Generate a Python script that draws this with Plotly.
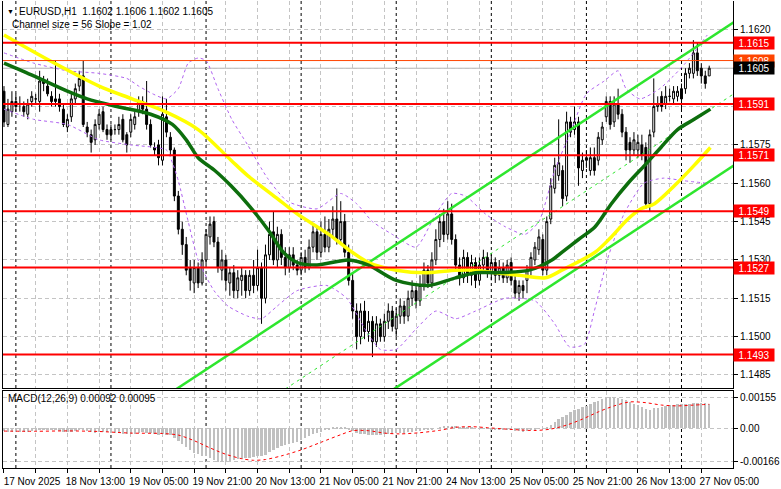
import plotly.graph_objects as go

# ---------------- data ----------------
bar_index = list(range(179))

opens = [1.1596,1.1583,1.1588,1.1592,1.1591,1.1590,1.1587,1.1592,1.1593,1.1592,
         1.1600,1.1598,1.1594,1.1593,1.1593,1.1589,1.1582,1.1586,1.1593,1.1598,
         1.1602,1.1582,1.1579,1.1577,1.1583,1.1588,1.1581,1.1581,1.1581,1.1581,
         1.1585,1.1579,1.1580,1.1583,1.1588,1.1592,1.1589,1.1583,1.1574,1.1575,
         1.1569,1.1586,1.1578,1.1573,1.1555,1.1542,1.1536,1.1527,1.1521,1.1527,
         1.1521,1.1530,1.1539,1.1545,1.1537,1.1526,1.1530,1.1521,1.1525,1.1518,
         1.1522,1.1524,1.1518,1.1524,1.1520,1.1527,1.1515,1.1532,1.1541,1.1530,
         1.1540,1.1531,1.1527,1.1532,1.1528,1.1526,1.1531,1.1527,1.1535,1.1541,
         1.1533,1.1540,1.1535,1.1542,1.1546,1.1538,1.1545,1.1533,1.1522,1.1510,
         1.1500,1.1510,1.1502,1.1506,1.1498,1.1505,1.1500,1.1506,1.1510,1.1503,
         1.1508,1.1512,1.1508,1.1515,1.1518,1.1514,1.1520,1.1526,1.1521,1.1530,
         1.1538,1.1545,1.1540,1.1548,1.1538,1.1528,1.1523,1.1531,1.1524,1.1529,
         1.1522,1.1528,1.1531,1.1525,1.1529,1.1524,1.1527,1.1523,1.1529,1.1522,
         1.1517,1.1520,1.1522,1.1526,1.1530,1.1534,1.1538,1.1526,1.1546,1.1558,
         1.1563,1.1565,1.1555,1.1584,1.1581,1.1584,1.1565,1.1570,1.1565,1.1570,
         1.1569,1.1577,1.1586,1.1592,1.1584,1.1591,1.1587,1.1580,1.1576,1.1573,
         1.1573,1.1575,1.1574,1.1552,1.1580,1.1590,1.1594,1.1591,1.1594,1.1593,
         1.1594,1.1597,1.1597,1.1603,1.1603,1.1611,1.1605,1.1602,1.1602]
highs = [1.1598,1.1593,1.1596,1.1595,1.1594,1.1592,1.1593,1.1596,1.1595,1.1604,
         1.1602,1.1601,1.1596,1.1608,1.1595,1.1591,1.1587,1.1595,1.1599,1.1604,
         1.1608,1.1584,1.1581,1.1585,1.1589,1.1590,1.1583,1.1583,1.1583,1.1586,
         1.1587,1.1580,1.1587,1.1588,1.1594,1.1594,1.1600,1.1585,1.1576,1.1577,
         1.1594,1.1593,1.1580,1.1574,1.1557,1.1545,1.1539,1.1530,1.1530,1.1529,
         1.1533,1.1542,1.1547,1.1547,1.1539,1.1534,1.1532,1.1527,1.1528,1.1526,
         1.1527,1.1526,1.1526,1.1530,1.1534,1.1529,1.1536,1.1545,1.1549,1.1543,
         1.1542,1.1535,1.1535,1.1535,1.1530,1.1533,1.1534,1.1538,1.1544,1.1543,
         1.1545,1.1547,1.1546,1.1551,1.1558,1.1553,1.1548,1.1536,1.1525,1.1513,
         1.1513,1.1514,1.1510,1.1508,1.1508,1.1507,1.1509,1.1513,1.1512,1.1511,
         1.1515,1.1514,1.1518,1.1522,1.1520,1.1524,1.1529,1.1528,1.1533,1.1542,
         1.1548,1.1550,1.1553,1.1552,1.1540,1.1531,1.1534,1.1533,1.1532,1.1531,
         1.1531,1.1534,1.1533,1.1532,1.1531,1.1530,1.1529,1.1530,1.1531,1.1524,
         1.1522,1.1522,1.1528,1.1533,1.1537,1.1542,1.1540,1.1547,1.1562,1.1570,
         1.1585,1.1567,1.1588,1.1586,1.1590,1.1586,1.1572,1.1573,1.1574,1.1574,
         1.1580,1.1584,1.1594,1.1594,1.1594,1.1597,1.1589,1.1582,1.1578,1.1580,
         1.1579,1.1579,1.1576,1.1581,1.1601,1.1594,1.1596,1.1598,1.1597,1.1598,
         1.1598,1.1599,1.1605,1.1607,1.1616,1.1615,1.1607,1.1604,1.1606]
lows = [1.1582,1.1582,1.1586,1.1588,1.1588,1.1586,1.1585,1.1590,1.1591,1.1588,
        1.1596,1.1594,1.1590,1.1590,1.1588,1.1582,1.1580,1.1584,1.1591,1.1596,
        1.1582,1.1578,1.1572,1.1575,1.1581,1.1580,1.1577,1.1577,1.1579,1.1579,
        1.1576,1.1572,1.1578,1.1581,1.1586,1.1587,1.1581,1.1574,1.1571,1.1567,
        1.1567,1.1578,1.1571,1.1553,1.1540,1.1532,1.1524,1.1518,1.1517,1.1519,
        1.1520,1.1528,1.1536,1.1535,1.1525,1.1522,1.1518,1.1516,1.1515,1.1515,
        1.1516,1.1515,1.1516,1.1517,1.1518,1.1505,1.1513,1.1530,1.1528,1.1527,
        1.1528,1.1524,1.1525,1.1526,1.1524,1.1524,1.1525,1.1526,1.1533,1.1530,
        1.1531,1.1533,1.1533,1.1539,1.1536,1.1536,1.1531,1.1520,1.1507,1.1495,
        1.1497,1.1499,1.1498,1.1492,1.1496,1.1498,1.1498,1.1503,1.1502,1.1500,
        1.1505,1.1505,1.1506,1.1512,1.1511,1.1512,1.1518,1.1519,1.1519,1.1528,
        1.1535,1.1537,1.1538,1.1536,1.1526,1.1520,1.1521,1.1521,1.1520,1.1519,
        1.1520,1.1525,1.1523,1.1522,1.1521,1.1522,1.1521,1.1521,1.1520,1.1515,
        1.1514,1.1515,1.1517,1.1524,1.1528,1.1532,1.1524,1.1524,1.1544,1.1556,
        1.1561,1.1551,1.1553,1.1578,1.1579,1.1559,1.1562,1.1566,1.1563,1.1563,
        1.1567,1.1575,1.1584,1.1581,1.1582,1.1585,1.1578,1.1569,1.1568,1.1571,
        1.1570,1.1569,1.1550,1.1549,1.1578,1.1588,1.1588,1.1589,1.1592,1.1591,
        1.1592,1.1588,1.1595,1.1601,1.1601,1.1602,1.1599,1.1597,1.1602]
closes = [1.1584,1.1589,1.1592,1.1590,1.1591,1.1588,1.1591,1.1594,1.1593,1.1600,
          1.1599,1.1595,1.1592,1.1592,1.1590,1.1583,1.1585,1.1593,1.1597,1.1601,
          1.1583,1.1580,1.1576,1.1583,1.1587,1.1581,1.1579,1.1579,1.1581,1.1583,
          1.1577,1.1575,1.1585,1.1586,1.1592,1.1589,1.1583,1.1575,1.1573,1.1570,
          1.1587,1.1580,1.1573,1.1555,1.1542,1.1536,1.1526,1.1522,1.1527,1.1521,
          1.1530,1.1540,1.1544,1.1537,1.1527,1.1530,1.1522,1.1525,1.1518,1.1523,
          1.1524,1.1518,1.1524,1.1520,1.1527,1.1515,1.1532,1.1540,1.1530,1.1540,
          1.1531,1.1527,1.1532,1.1528,1.1526,1.1531,1.1527,1.1535,1.1541,1.1533,
          1.1540,1.1535,1.1542,1.1546,1.1538,1.1545,1.1533,1.1522,1.1510,1.1500,
          1.1510,1.1502,1.1506,1.1498,1.1505,1.1500,1.1506,1.1510,1.1504,1.1508,
          1.1512,1.1508,1.1515,1.1518,1.1514,1.1520,1.1526,1.1521,1.1530,1.1538,
          1.1545,1.1540,1.1548,1.1538,1.1528,1.1523,1.1531,1.1524,1.1529,1.1522,
          1.1528,1.1531,1.1525,1.1529,1.1524,1.1527,1.1523,1.1528,1.1522,1.1517,
          1.1520,1.1518,1.1526,1.1531,1.1535,1.1539,1.1526,1.1545,1.1559,1.1567,
          1.1568,1.1554,1.1584,1.1580,1.1584,1.1566,1.1569,1.1569,1.1570,1.1565,
          1.1578,1.1582,1.1592,1.1583,1.1591,1.1587,1.1580,1.1573,1.1573,1.1577,
          1.1576,1.1571,1.1552,1.1579,1.1590,1.1591,1.1590,1.1594,1.1594,1.1596,
          1.1596,1.1593,1.1603,1.1605,1.1611,1.1604,1.1602,1.1599,1.1605]

# moving averages (yellow / dark green), bar index -> price
ma_yellow_x = [0, 11.5, 24, 32.3, 40.7, 49, 57.3, 61.5, 69, 74, 82, 87, 92, 99, 107,
               114, 119, 124, 130, 136.7, 140.8, 149.2, 153.3, 157.5, 160.8, 164.2,
               169.2, 174.2, 178.3]
ma_yellow = [1.1618, 1.1608, 1.1598, 1.1593, 1.1588, 1.1581, 1.1569, 1.1563, 1.1554,
             1.1548, 1.1540, 1.1534, 1.1529, 1.1526, 1.1525, 1.1526, 1.1526, 1.1525,
             1.1524, 1.1523, 1.1526, 1.1533, 1.1539, 1.1546, 1.1550, 1.1552, 1.1559,
             1.1567, 1.1574]
ma_green_x = [0, 7.5, 16, 21, 28.5, 37, 42.5, 46, 49, 53.2, 57.3, 62, 67, 70.5, 74,
              79, 87, 92, 99, 107, 114, 119, 124.2, 132.5, 138.3, 140.8, 145, 149.2,
              153.3, 157.5, 161.7, 165.8, 170, 174.2, 178.3]
ma_green = [1.1607, 1.1602, 1.1596, 1.1593, 1.1590, 1.1587, 1.1583, 1.1577, 1.1570,
            1.1565, 1.1559, 1.1551, 1.1541, 1.1533, 1.1529, 1.1528, 1.1530, 1.1528,
            1.1522, 1.1520, 1.1523, 1.1525, 1.1525, 1.1526, 1.1530, 1.1533, 1.1538,
            1.1543, 1.1552, 1.1560, 1.1567, 1.1574, 1.1581, 1.1585, 1.1589]

# envelope bands (purple dashed)
band_up_x = [0, 7.5, 16, 24, 31, 34, 37.5, 41, 44, 46.5, 49, 51, 54, 57.5, 61.5, 66.5,
             71.5, 79, 85, 89, 93, 98, 104, 109, 113, 116.5, 121.5, 126.5, 131.5, 135,
             139, 143, 147, 151.5, 155, 157, 160.5, 165.5, 169, 172, 177.5]
band_up = [1.1611, 1.1607, 1.1604, 1.1603, 1.1601, 1.1598, 1.1595, 1.1593, 1.1597,
           1.1607, 1.1609, 1.1608, 1.1597, 1.1585, 1.1575, 1.1562, 1.1553, 1.1550,
           1.1556, 1.1552, 1.1545, 1.1540, 1.1535, 1.1548, 1.1556, 1.1555, 1.1548,
           1.1543, 1.1540, 1.1545, 1.1565, 1.1580, 1.1595, 1.1600, 1.1604, 1.1597,
           1.1593, 1.1597, 1.1602, 1.1607, 1.1618]
band_lo_x = [0, 7.5, 16, 24, 32, 41, 42.5, 44, 46.5, 49, 53, 56.5, 61.5, 65, 69, 74,
             81.5, 86.5, 91.5, 95, 99, 104, 109, 114, 119, 126.5, 134, 139, 142.75,
             146.5, 149, 152.25, 156.5, 161.5, 166.5, 171.5, 177.5]
band_lo = [1.1589, 1.1585, 1.1583, 1.1577, 1.1575, 1.1573, 1.1568, 1.1561, 1.1545,
           1.1530, 1.1518, 1.1512, 1.1508, 1.1507, 1.1512, 1.1518, 1.1520, 1.1515,
           1.1502, 1.1495, 1.1495, 1.1503, 1.1510, 1.1507, 1.1510, 1.1515, 1.1514,
           1.1505, 1.1496, 1.1497, 1.1510, 1.1530, 1.1548, 1.1560, 1.1562, 1.1561,
           1.1560]

# regression channel (size 56, slope 1.02)
channel_x = [40, 185]
channel_upper = [1.14759, 1.16238]
channel_mid = [1.14479, 1.15958]
channel_lower = [1.14199, 1.15678]

levels = [1.1615, 1.1591, 1.1571, 1.1549, 1.1527, 1.1493]
level_labels = ["1.1615", "1.1591", "1.1571", "1.1549", "1.1527", "1.1493"]
orange_level = 1.1608
bid_level = 1.1605

price_ticks = [1.1485, 1.1500, 1.1515, 1.1530, 1.1545, 1.1560, 1.1575, 1.1590, 1.1605, 1.1620]
# the 1.1605 label sits fully under the bid price box in the reference
price_tick_labels = ["1.1485", "1.1500", "1.1515", "1.1530", "1.1545", "1.1560",
                     "1.1575", "1.1590", "", "1.1620"]

macd = [-0.00015,-0.00016,-0.00017,-0.00016,-0.00016,-0.00017,-0.00016,-0.00014,-0.00013,-0.00010,
        -0.00008,-0.00008,-0.00009,-0.00010,-0.00012,-0.00016,-0.00018,-0.00016,-0.00012,-0.00008,
        -0.00010,-0.00015,-0.00020,-0.00021,-0.00019,-0.00018,-0.00020,-0.00022,-0.00024,-0.00024,
        -0.00026,-0.00029,-0.00028,-0.00026,-0.00022,-0.00020,-0.00021,-0.00025,-0.00030,-0.00035,
        -0.00030,-0.00031,-0.00035,-0.00048,
        -0.00062,-0.00078,-0.00095,-0.00110,-0.00122,-0.00130,-0.00136,-0.00140,-0.00148,-0.00158,
        -0.00166,-0.00170,-0.00168,-0.00165,-0.00160,-0.00155,-0.00152,-0.00150,-0.00146,-0.00142,
        -0.00138,-0.00140,-0.00132,-0.00120,-0.00110,-0.00100,
        -0.00090,-0.00084,-0.00078,-0.00072,-0.00066,-0.00058,-0.00050,-0.00040,-0.00030,-0.00024,
        -0.00016,-0.00010,-0.00004,0.00002,0.00005,0.00006,0.00003,-0.00004,-0.00014,-0.00024,
        -0.00028,-0.00030,-0.00032,-0.00034,-0.00033,-0.00032,-0.00030,-0.00028,-0.00026,-0.00025,
        -0.00023,-0.00021,-0.00018,-0.00016,-0.00015,-0.00013,-0.00010,-0.00008,-0.00005,0.00000,
        0.00006,0.00010,0.00014,0.00013,0.00010,0.00007,0.00006,0.00004,0.00002,0.00000,
        -0.00001,-0.00002,-0.00003,-0.00004,-0.00005,-0.00005,-0.00006,-0.00007,-0.00009,-0.00012,
        -0.00015,-0.00016,-0.00014,-0.00010,-0.00005,-0.00001,-0.00002,0.00004,0.00018,0.00032,
        0.00045,0.00055,0.00068,0.00080,0.00090,0.00098,0.00106,0.00114,0.00122,0.00130,
        0.00138,0.00146,0.00152,0.00155,0.00153,0.00150,0.00146,0.00140,0.00132,0.00124,
        0.00116,0.00108,0.00096,0.00094,0.00100,0.00104,0.00108,0.00112,0.00115,0.00118,
        0.00120,0.00121,0.00122,0.00124,0.00126,0.00128,0.00128,0.00126,0.00124]
signal_x = [0, 8, 16, 24, 32, 40, 44, 48, 52, 56, 60, 63, 66, 70, 75, 80, 85, 88, 92, 96,
            100, 105, 110, 114, 118, 122, 126, 130, 134, 138, 142, 146, 150, 154, 158, 162,
            166, 170, 174, 178]
signal = [-0.00014, -0.00015, -0.00013, -0.00016, -0.00024, -0.00026, -0.00034, -0.00062,
          -0.00098, -0.00130, -0.00152, -0.00160, -0.00156, -0.00138, -0.00108, -0.00070,
          -0.00032, -0.00012, -0.00012, -0.00024, -0.00028, -0.00022, -0.00010, 0.00005,
          0.00008, 0.00003, -0.00003, -0.00008, -0.00011, -0.00004, 0.00016, 0.00046,
          0.00082, 0.00112, 0.00132, 0.00128, 0.00116, 0.00112, 0.00116, 0.00120]
macd_ticks = [-0.00166, 0.0, 0.00155]
macd_tick_labels = ["-0.00166", "0.00", "0.00155"]

day_starts = [3, 27, 51, 75, 99, 123, 147, 171]
time_label_idx = [0, 16, 32, 48, 64, 80, 96, 112, 128, 144, 160, 176]
time_labels = ["17 Nov 2025", "18 Nov 13:00", "19 Nov 05:00", "19 Nov 21:00",
               "20 Nov 13:00", "21 Nov 05:00", "21 Nov 21:00", "24 Nov 13:00",
               "25 Nov 05:00", "25 Nov 21:00", "26 Nov 13:00", "27 Nov 05:00"]
grid_step_bars = 8

# ---------------- figure ----------------
FONT = "Liberation Sans"
FS = 10
GRID = "#c4c4c4"

fig = go.Figure()

fig.add_trace(go.Candlestick(
    x=bar_index, open=opens, high=highs, low=lows, close=closes,
    increasing=dict(line=dict(color="black", width=1), fillcolor="white"),
    decreasing=dict(line=dict(color="black", width=1), fillcolor="black"),
    whiskerwidth=0, hoverinfo="skip", xaxis="x", yaxis="y"))

band_style = dict(color="#b063f0", width=1, dash="3px,3px", shape="spline", smoothing=0.6)
fig.add_trace(go.Scatter(x=band_up_x, y=band_up, mode="lines", line=band_style,
                         xaxis="x", yaxis="y"))
fig.add_trace(go.Scatter(x=band_lo_x, y=band_lo, mode="lines", line=band_style,
                         xaxis="x", yaxis="y"))

chan_col = "#2ee62e"
fig.add_trace(go.Scatter(x=channel_x, y=channel_upper, mode="lines",
                         line=dict(color=chan_col, width=2.5), xaxis="x", yaxis="y"))
fig.add_trace(go.Scatter(x=channel_x, y=channel_lower, mode="lines",
                         line=dict(color=chan_col, width=2.5), xaxis="x", yaxis="y"))
fig.add_trace(go.Scatter(x=channel_x, y=channel_mid, mode="lines",
                         line=dict(color=chan_col, width=1, dash="3px,4px"),
                         xaxis="x", yaxis="y"))

fig.add_trace(go.Scatter(x=ma_yellow_x, y=ma_yellow, mode="lines",
                         line=dict(color="#ffff00", width=3.5, shape="spline", smoothing=0.8),
                         xaxis="x", yaxis="y"))
fig.add_trace(go.Scatter(x=ma_green_x, y=ma_green, mode="lines",
                         line=dict(color="#0d6e0d", width=3.5, shape="spline", smoothing=0.8),
                         xaxis="x", yaxis="y"))

# MACD panel
fig.add_trace(go.Bar(x=bar_index, y=macd, marker=dict(color="#c0c0c0", line=dict(width=0)),
                     width=0.6, xaxis="x2", yaxis="y2", hoverinfo="skip"))
fig.add_trace(go.Scatter(x=signal_x, y=signal, mode="lines",
                         line=dict(color="#ff0000", width=1, dash="3px,3px",
                                   shape="spline", smoothing=0.8),
                         xaxis="x2", yaxis="y2"))

# horizontal levels
for lv in levels:
    fig.add_shape(type="line", xref="x domain", yref="y", x0=0, x1=1, y0=lv, y1=lv,
                  line=dict(color="#ff0000", width=2), layer="above")
fig.add_shape(type="line", xref="x domain", yref="y", x0=0, x1=1, y0=orange_level,
              y1=orange_level, line=dict(color="#ff4500", width=1), layer="above")
fig.add_shape(type="line", xref="x domain", yref="y", x0=0, x1=1, y0=bid_level,
              y1=bid_level, line=dict(color="#b4b4b4", width=1), layer="below")

# day separators
for d in day_starts:
    fig.add_shape(type="line", xref="x", yref="y domain", x0=d, x1=d, y0=0, y1=1,
                  line=dict(color="black", width=1, dash="3px,3px"), layer="below")
    fig.add_shape(type="line", xref="x2", yref="y2 domain", x0=d, x1=d, y0=0, y1=1,
                  line=dict(color="black", width=1, dash="3px,3px"), layer="below")

# right-side price labels
annotations = []
for lv, txt in zip(levels, level_labels):
    annotations.append(dict(xref="paper", x=1, xanchor="left", yref="y", y=lv,
                            yanchor="middle", text=txt, showarrow=False, bgcolor="#ff0000",
                            width=40, height=12, borderpad=0, align="center",
                            font=dict(family=FONT, size=FS, color="white")))
annotations.append(dict(xref="paper", x=1, xanchor="left", yref="y", y=orange_level,
                        yanchor="middle", text=f"{orange_level:.4f}", showarrow=False,
                        bgcolor="#ff4500", width=40, height=12, borderpad=0,
                        font=dict(family=FONT, size=FS, color="white")))
annotations.append(dict(xref="paper", x=1, xanchor="left", yref="y", y=bid_level,
                        yanchor="middle", text=f"{bid_level:.4f}", showarrow=False,
                        bgcolor="black", width=40, height=12, borderpad=0,
                        font=dict(family=FONT, size=FS, color="white")))

# header texts
annotations.append(dict(xref="paper", x=0, xanchor="left", xshift=2, yref="y domain", y=1,
                        yanchor="middle", yshift=-10, text="▼", showarrow=False,
                        font=dict(family=FONT, size=7, color="black")))
annotations.append(dict(xref="paper", x=0, xanchor="left", xshift=14, yref="y domain", y=1,
                        yanchor="middle", yshift=-10,
                        text="EURUSD,H1\u00a0 1.1602 1.1606 1.1602 1.1605", showarrow=False,
                        font=dict(family=FONT, size=FS, color="black")))
annotations.append(dict(xref="paper", x=0, xanchor="left", xshift=7, yref="y domain", y=1,
                        yanchor="middle", yshift=-23,
                        text="Channel size = 56 Slope = 1.02", showarrow=False,
                        font=dict(family=FONT, size=FS, color="black")))
annotations.append(dict(xref="paper", x=0, xanchor="left", xshift=3, yref="y2 domain", y=1,
                        yanchor="middle", yshift=-8,
                        text="MACD(12,26,9) 0.00092 0.00095", showarrow=False,
                        font=dict(family=FONT, size=FS, color="black")))

label_map = dict(zip(time_label_idx, time_labels))
x_grid_vals = list(range(0, 184, grid_step_bars))
x_grid_text = [label_map.get(v, "") for v in x_grid_vals]

x_range = [-0.25, 184]
main_bottom = 0.1713
macd_top = 0.1649

fig.update_layout(
    width=781, height=489,
    margin=dict(l=3, r=41, t=1, b=21),
    paper_bgcolor="white", plot_bgcolor="white",
    showlegend=False, boxgap=0.3, bargap=0,
    font=dict(family=FONT, size=FS, color="black"),
    annotations=annotations,
    xaxis=dict(domain=[0, 1], anchor="y", range=x_range, tickmode="array",
               tickvals=x_grid_vals, showticklabels=False, ticks="",
               showgrid=True, gridcolor=GRID, griddash="4px,3px", gridwidth=1,
               showline=True, linecolor="black", linewidth=1, zeroline=False,
               rangeslider=dict(visible=False)),
    yaxis=dict(domain=[main_bottom, 1], anchor="x", side="right",
               range=[1.14799, 1.16313], tickmode="array", tickvals=price_ticks,
               ticktext=price_tick_labels, ticks="outside", ticklen=4, tickcolor="black",
               showgrid=True, gridcolor=GRID, griddash="4px,3px", gridwidth=1,
               showline=True, mirror=True, linecolor="black", linewidth=1,
               zeroline=False, tickfont=dict(family=FONT, size=FS, color="black")),
    xaxis2=dict(domain=[0, 1], anchor="y2", matches="x", range=x_range, tickmode="array",
                tickvals=x_grid_vals, ticktext=x_grid_text, ticks="outside", ticklen=4,
                tickcolor="black", ticklabelshift=28,
                showgrid=True, gridcolor=GRID, griddash="4px,3px", gridwidth=1,
                showline=True, mirror=True, linecolor="black", linewidth=1, zeroline=False,
                tickfont=dict(family=FONT, size=FS, color="black")),
    yaxis2=dict(domain=[0, macd_top], anchor="x2", side="right",
                range=[-0.001985, 0.001865], tickmode="array", tickvals=macd_ticks,
                ticktext=macd_tick_labels, ticks="outside", ticklen=4, tickcolor="black",
                showgrid=True, gridcolor=GRID, griddash="4px,3px", gridwidth=1,
                showline=True, mirror=True, linecolor="black", linewidth=1,
                zeroline=False, tickfont=dict(family=FONT, size=FS, color="black")),
)

fig.write_html("out.html", config={"displayModeBar": False},
               post_script="document.body.style.margin='0';document.body.style.overflow='hidden';")
